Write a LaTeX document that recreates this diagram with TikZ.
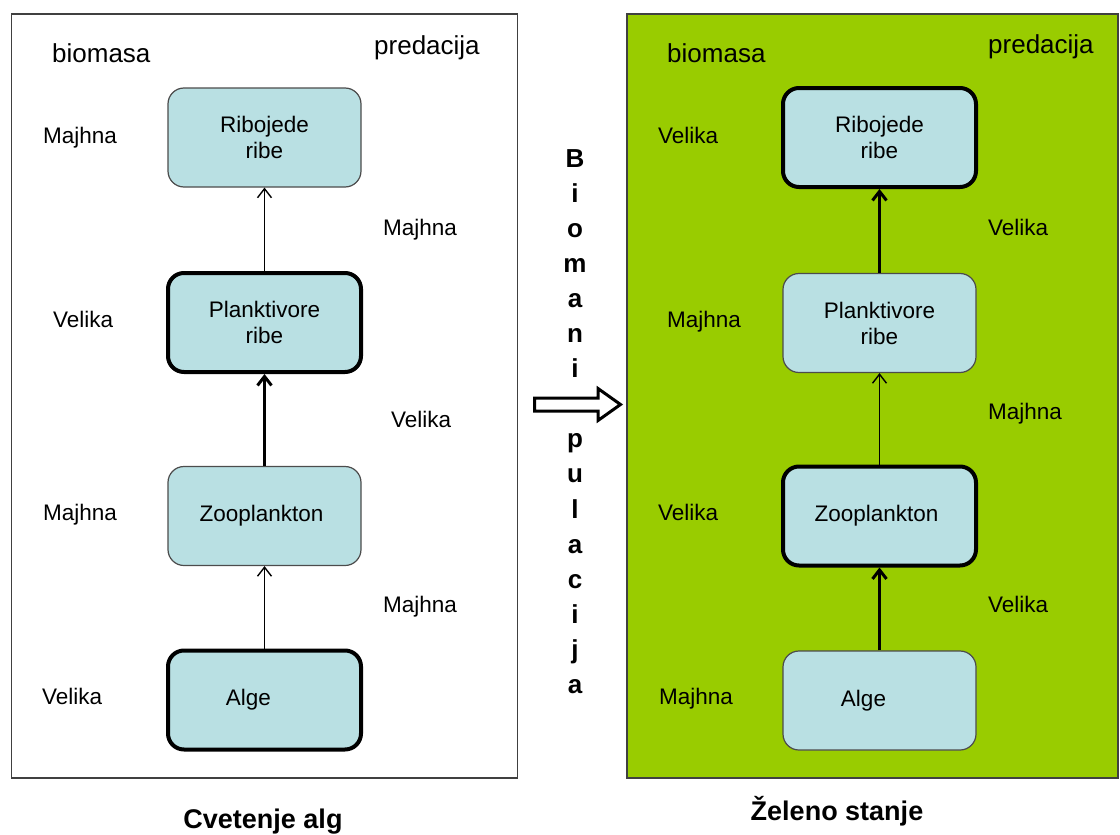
\documentclass[tikz,border=0pt]{standalone}
\usepackage{fontspec}
\setmainfont{Liberation Sans}
\usetikzlibrary{arrows.meta}
\definecolor{boxblue}{RGB}{185,224,227}
\definecolor{algaegreen}{RGB}{153,204,0}
\tikzset{
  box/.style={draw=black!70,line width=1.2pt,fill=boxblue,rounded corners=16pt,
    minimum width=193pt,minimum height=99pt,inner sep=0pt},
  thickbox/.style={box,draw=black,line width=4pt},
  feed/.style={-{Straight Barb[length=9pt,width=14pt]},line width=1.4pt},
  thickfeed/.style={feed,line width=3pt},
  lbl/.style={anchor=base west,inner sep=0pt,font=\fontsize{22.5}{26}\selectfont},
  headlbl/.style={anchor=base west,inner sep=0pt,font=\fontsize{26}{30}\selectfont},
  boxname/.style={align=center,inner sep=0pt,font=\fontsize{22.5}{26}\selectfont},
  paneltitle/.style={anchor=base,inner sep=0pt,font=\bfseries\fontsize{27}{32}\selectfont},
  vletter/.style={anchor=base,inner sep=0pt,font=\bfseries\fontsize{26}{30}\selectfont}
}

\begin{document}
\begin{tikzpicture}[x=1pt,y=-1pt]
\useasboundingbox (0,0) rectangle (1120,835);
% PANELS
\draw[line width=1.5pt,black!75] (11.5,14) rectangle (517.5,778);
\fill[algaegreen] (627,14) rectangle (1118,778);
\draw[line width=1.5pt,black!75] (627,14) rectangle (1118,778);

% NODES
\node[box]      (ribL)   at (264.5,137.5) {};
\node[thickbox] (plankL) at (264.5,322.5) {};
\node[box]      (zooL)   at (264.5,516)   {};
\node[thickbox] (algeL)  at (264.5,700)   {};

\node[thickbox] (ribR)   at (879.5,137.5) {};
\node[box]      (plankR) at (879.5,323)   {};
\node[thickbox] (zooR)   at (879.5,516)   {};
\node[box]      (algeR)  at (879.5,700.5) {};

% CONNECTIONS
\draw[feed]      (plankL) -- (ribL);
\draw[thickfeed] (zooL) -- (plankL);
\draw[feed]      (algeL) -- (zooL);

\draw[thickfeed] (plankR) -- (ribR);
\draw[feed]      (zooR) -- (plankR);
\draw[thickfeed] (algeR) -- (zooR);

% NODE NAMES
\node[boxname] at (ribL)   {Ribojede\\ribe};
\node[boxname] at (plankL) {Planktivore\\ribe};
\node[boxname] at ([xshift=-3pt]zooL)   {Zooplankton};
\node[boxname] at ([xshift=-16pt]algeL) {Alge};

\node[boxname] at (ribR)   {Ribojede\\ribe};
\node[boxname] at (plankR) {Planktivore\\ribe};
\node[boxname] at ([xshift=-3pt]zooR)   {Zooplankton};
\node[boxname] at ([xshift=-16pt]algeR) {Alge};

% LABELS LEFT
\node[headlbl] (bioL)  at (52,62)  {biomasa};
\node[headlbl] (predL) at (374,54) {predacija};
\node[lbl] (bL1) at (43,143) {Majhna};
\node[lbl] (bL2) at (53,327) {Velika};
\node[lbl] (bL3) at (43,520) {Majhna};
\node[lbl] (bL4) at (42,704) {Velika};
\node[lbl] (pL1) at (383,235) {Majhna};
\node[lbl] (pL2) at (391,427) {Velika};
\node[lbl] (pL3) at (383,612) {Majhna};

% LABELS RIGHT
\node[headlbl] (bioR)  at (667,62)  {biomasa};
\node[headlbl] (predR) at (988,53)  {predacija};
\node[lbl] (bR1) at (658,143) {Velika};
\node[lbl] (bR2) at (667,327) {Majhna};
\node[lbl] (bR3) at (658,520) {Velika};
\node[lbl] (bR4) at (659,704) {Majhna};
\node[lbl] (pR1) at (988,235) {Velika};
\node[lbl] (pR2) at (988,419) {Majhna};
\node[lbl] (pR3) at (988,612) {Velika};

% MANIPULATION
\foreach \ch/\k in {B/0,i/1,o/2,m/3,a/4,n/5,i/6,p/8,u/9,l/10,a/11,c/12,i/13,j/14,a/15}
  \node[vletter] (ch\k) at (575,167+35.1*\k) {\ch};
\draw[line width=3pt,fill=white,line join=miter]
  (534.5,398) -- (598,398) -- (598,388.5) -- (620.5,404.5) -- (598,420.5)
  -- (598,411) -- (534.5,411) -- cycle;

% TITLES
\node[paneltitle] (titleL) at (263,828) {Cvetenje alg};
\node[paneltitle] (titleR) at (837,820) {Želeno stanje};
\end{tikzpicture}
\end{document}
